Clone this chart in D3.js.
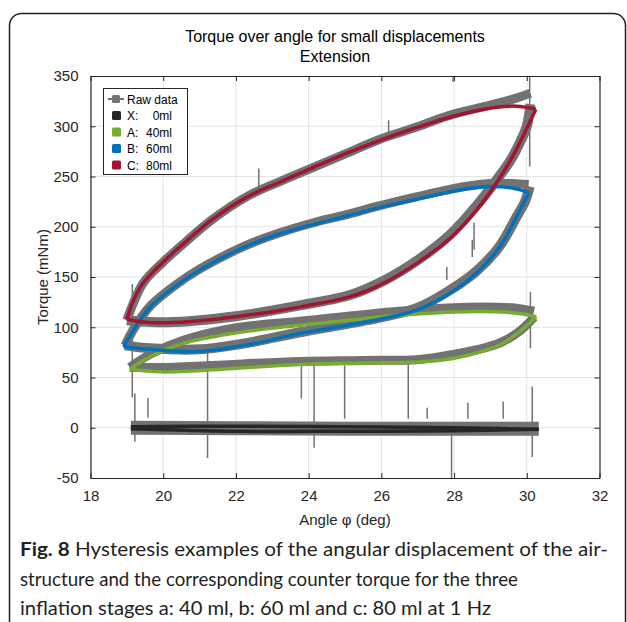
<!DOCTYPE html>
<html>
<head>
<meta charset="utf-8">
<script src="https://cdn.jsdelivr.net/npm/d3@7"></script>
<style>
  body { margin: 0; background: #fff; }
  svg { display: block; }
</style>
</head>
<body>
<div id="chart"></div>
<script>
// Ticks
const xTicks = [18, 20, 22, 24, 26, 28, 30, 32];
const yTicks = [-50, 0, 50, 100, 150, 200, 250, 300, 350];

// Fitted loops [angle, torque]
const fitX_up = [[19.11, 1], [22, 1.5], [25, 1], [28, 0], [30.33, -1.5]];
const fitX_lo = [[19.11, -1], [22, -3.5], [25, -3.5], [28, -3], [30.33, -1.5]];

const fitA_up = [[19.08, 58.2], [19.64, 70.7], [20.55, 84], [21.93, 94], [23.76, 102], [25.5, 108.5], [26.5, 112], [28.35, 115.5], [29.72, 114], [30.26, 110.5]];
const fitA_lo = [[19.08, 58.2], [20.1, 55.5], [21.93, 59], [23.76, 63], [25.5, 64.5], [27.05, 65.5], [27.97, 69], [28.89, 77.3], [29.35, 84], [29.8, 95.6], [30.26, 110.5]];

const fitB_up = [[18.91, 80.6], [19.2, 98], [19.64, 120], [20.3, 140], [21.01, 157], [22.25, 180], [23.21, 193], [24.13, 202.3], [25.04, 210.7], [25.96, 219.3], [26.87, 226.6], [27.6, 232.6], [28.3, 237.5], [28.98, 240], [29.6, 238.5], [30.06, 234]];
const fitB_lo = [[18.91, 80.6], [19.64, 78], [21.01, 76], [22.4, 83], [23.77, 94], [25.6, 105.5], [26.97, 117], [27.89, 134], [28.62, 154], [29.26, 180], [29.72, 210], [30.06, 234]];

const fitC_up = [[19.0, 108], [19.2, 128], [19.45, 144], [20.0, 165], [20.46, 180], [21.38, 208], [22.3, 229.5], [23.21, 244.5], [24.13, 259], [25.04, 273], [25.96, 286], [26.87, 297.5], [27.98, 310], [28.89, 317.5], [29.71, 320], [30.25, 317]];
const fitC_lo = [[19.0, 108], [19.5, 105], [20.1, 104.5], [21.0, 106.5], [22.0, 110.5], [23.0, 115.5], [23.8, 120.5], [25.14, 130.5], [26.05, 143.7], [26.97, 163.6], [27.89, 188.5], [28.62, 216.7], [29.22, 246.5], [29.5, 263], [29.8, 283], [30.08, 304], [30.25, 317]];

// Raw data traces (centre of the noisy band) [angle, torque]
const rawX = [[19.11, 0], [22, -0.5], [25, -1], [28, -1], [30.33, -1]];
const rawA_up = [[19.08, 60], [19.64, 73], [20.55, 87], [21.93, 99], [23.76, 106], [26.5, 116], [28.35, 120], [29.72, 119], [30.2, 116]];
const rawA_lo = [[30.2, 110], [29.8, 96], [29.35, 86], [28.89, 80], [27.97, 73], [27.05, 68], [25.5, 67], [23.76, 66], [21.93, 63], [20.1, 60], [19.08, 60]];
const rawB_up = [[18.95, 82], [19.2, 99], [19.64, 121], [20.3, 141], [21.01, 158], [22.25, 181], [23.21, 194], [24.13, 204], [25.04, 212], [25.96, 221], [26.87, 229], [27.6, 235], [28.3, 240], [28.98, 243], [29.6, 243], [30.05, 242]];
const rawB_lo = [[30.08, 240], [29.95, 225], [29.72, 210], [29.26, 181], [28.62, 156], [27.89, 137], [26.97, 119], [25.6, 107], [23.77, 95], [22.4, 85], [21.01, 78], [19.64, 79], [18.95, 82]];
const rawC_up = [[19.0, 107], [19.45, 144], [20.0, 165], [20.46, 180], [21.38, 208], [22.3, 230], [23.21, 245], [24.13, 259], [25.04, 273], [25.96, 287], [26.87, 298], [27.98, 312], [28.89, 320], [29.71, 328], [30.1, 333]];
const rawC_lo = [[30.1, 322], [30.0, 300], [29.8, 283], [29.55, 266], [29.22, 249], [28.62, 221], [27.89, 192], [26.97, 166], [26.05, 146], [25.14, 132], [23.8, 122], [22.0, 111], [20.1, 105], [19.0, 107]];

// Outlier spikes in the raw data [angle, torque from, torque to]
const spikes = [
  [19.15, 143, 30], [19.22, 34, -14], [19.58, 29.5, 10], [21.22, 78, -30],
  [22.63, 258, 237], [23.8, 62, 29], [24.15, 62, -20], [24.99, 62, 9],
  [26.2, 306, 293], [26.74, 70, 9], [27.26, 20, 9], [27.8, 160, 147],
  [27.93, -5, -50], [27.97, 350, 344], [28.38, 25, 9], [28.5, 187, 170],
  [28.55, 204, 177], [29.35, 26, 9], [30.08, 350, 260], [30.1, 135, 79],
  [30.15, 41, -29]
];

const legendItems = [
  { key: "X:", val: "0ml", color: "#262626" },
  { key: "A:", val: "40ml", color: "#77ac30" },
  { key: "B:", val: "60ml", color: "#0072bd" },
  { key: "C:", val: "80ml", color: "#a2142f" }
];

const captionLines = [
  ["Fig. 8", " Hysteresis examples of the angular displacement of the air-"],
  ["", "structure and the corresponding counter torque for the three"],
  ["", "inflation stages a: 40 ml, b: 60 ml and c: 80 ml at 1 Hz"]
];
const captionLengths = [588, 498, 471];

const W = 627, H = 622;
const plot = { left: 90.5, right: 599.5, top: 76, bottom: 478 };
const rawColor = "#727272";
const axisColor = "#262626";

const svg = d3.select("#chart").append("svg")
  .attr("width", W).attr("height", H)
  .style("font-family", "'Liberation Sans', Arial, sans-serif");

// outer frame
svg.append("rect")
  .attr("x", 9.5).attr("y", 13.5)
  .attr("width", 616).attr("height", 630)
  .attr("rx", 12)
  .attr("fill", "none").attr("stroke", "#231f20").attr("stroke-width", 1.5);

const x = d3.scaleLinear().domain([18, 32]).range([plot.left, plot.right]);
const y = d3.scaleLinear().domain([-50, 350]).range([plot.bottom, plot.top]);

svg.append("clipPath").attr("id", "clip")
  .append("rect")
  .attr("x", plot.left).attr("y", plot.top)
  .attr("width", plot.right - plot.left).attr("height", plot.bottom - plot.top);

// grid
const grid = svg.append("g");
grid.selectAll(".gx").data(xTicks.slice(1, -1)).join("line")
  .attr("x1", d => x(d)).attr("x2", d => x(d))
  .attr("y1", plot.top).attr("y2", plot.bottom)
  .attr("stroke", "#e4e4e4");
grid.selectAll(".gy").data(yTicks.slice(1, -1)).join("line")
  .attr("y1", d => y(d)).attr("y2", d => y(d))
  .attr("x1", plot.left).attr("x2", plot.right)
  .attr("stroke", "#e4e4e4");

const g = svg.append("g").attr("clip-path", "url(#clip)");

const line = d3.line().x(d => x(d[0])).y(d => y(d[1])).curve(d3.curveCatmullRom);

// raw data
const raws = [
  [rawX, 14], [rawA_up, 9], [rawA_lo, 9], [rawB_up, 9], [rawB_lo, 10], [rawC_up, 9], [rawC_lo, 10]
];
g.selectAll(".raw").data(raws).join("path")
  .attr("d", d => line(d[0]))
  .attr("fill", "none").attr("stroke", rawColor)
  .attr("stroke-width", d => d[1])
  .attr("stroke-linejoin", "round");

g.selectAll(".spike").data(spikes).join("line")
  .attr("x1", d => x(d[0])).attr("x2", d => x(d[0]))
  .attr("y1", d => y(d[1])).attr("y2", d => y(d[2]))
  .attr("stroke", rawColor).attr("stroke-width", 1.5);

// fitted loops
const fits = [
  [fitX_up, "#262626"], [fitX_lo, "#262626"],
  [fitA_up, "#77ac30"], [fitA_lo, "#77ac30"],
  [fitB_up, "#0072bd"], [fitB_lo, "#0072bd"],
  [fitC_up, "#a2142f"], [fitC_lo, "#a2142f"]
];
g.selectAll(".fit").data(fits).join("path")
  .attr("d", d => line(d[0]))
  .attr("fill", "none").attr("stroke", d => d[1])
  .attr("stroke-width", 3.5)
  .attr("stroke-linejoin", "round");

// axes (box with inward ticks)
const fmt = d => String(d);
const axG = svg.append("g").attr("color", axisColor);
axG.append("g").attr("transform", `translate(0,${plot.bottom})`)
  .call(d3.axisBottom(x).tickValues(xTicks).tickFormat(fmt).tickSizeInner(-5).tickSizeOuter(0).tickPadding(12));
axG.append("g").attr("transform", `translate(0,${plot.top})`)
  .call(d3.axisTop(x).tickValues(xTicks).tickSizeInner(-5).tickSizeOuter(0).tickFormat(""));
axG.append("g").attr("transform", `translate(${plot.left},0)`)
  .call(d3.axisLeft(y).tickValues(yTicks).tickFormat(fmt).tickSizeInner(-5).tickSizeOuter(0).tickPadding(12));
axG.append("g").attr("transform", `translate(${plot.right},0)`)
  .call(d3.axisRight(y).tickValues(yTicks).tickSizeInner(-5).tickSizeOuter(0).tickFormat(""));
axG.selectAll(".domain").attr("stroke-width", 1.2);
axG.selectAll("text").attr("font-size", 15).attr("fill", axisColor)
  .style("font-family", "'Liberation Sans', Arial, sans-serif");

// titles
svg.append("text").attr("x", 335).attr("y", 42).attr("text-anchor", "middle")
  .attr("font-size", 16).attr("fill", "#000").text("Torque over angle for small displacements");
svg.append("text").attr("x", 335).attr("y", 62).attr("text-anchor", "middle")
  .attr("font-size", 16).attr("fill", "#000").text("Extension");

svg.append("text").attr("x", (plot.left + plot.right) / 2).attr("y", 525)
  .attr("text-anchor", "middle").attr("font-size", 15).attr("fill", axisColor)
  .text("Angle φ (deg)");
svg.append("text")
  .attr("transform", `translate(48,${(plot.top + plot.bottom) / 2}) rotate(-90)`)
  .attr("text-anchor", "middle").attr("font-size", 15).attr("fill", axisColor)
  .text("Torque (mNm)");

// legend
const lg = svg.append("g");
lg.append("rect").attr("x", 103.5).attr("y", 88.5).attr("width", 84).attr("height", 86)
  .attr("fill", "#fff").attr("stroke", axisColor).attr("stroke-width", 1);
lg.append("line").attr("x1", 108).attr("x2", 124).attr("y1", 99).attr("y2", 99)
  .attr("stroke", rawColor).attr("stroke-width", 2);
lg.append("rect").attr("x", 112).attr("y", 95).attr("width", 8).attr("height", 8).attr("rx", 1.5)
  .attr("fill", rawColor);
lg.append("text").attr("x", 127).attr("y", 103.5).attr("font-size", 12).attr("fill", "#000").text("Raw data");
legendItems.forEach((d, i) => {
  const cy = 115.5 + i * 16.5;
  lg.append("rect").attr("x", 112).attr("y", cy - 4.5).attr("width", 9).attr("height", 9).attr("rx", 1.5)
    .attr("fill", d.color);
  lg.append("text").attr("x", 127).attr("y", cy + 4.5).attr("font-size", 12).attr("fill", "#000").text(d.key);
  lg.append("text").attr("x", 172).attr("y", cy + 4.5).attr("text-anchor", "end")
    .attr("font-size", 12).attr("fill", "#000").text(d.val);
});

// caption
const cap = svg.append("g").style("font-family", "Lato, 'Noto Sans', sans-serif")
  .attr("fill", "#231f20").attr("font-size", 19);
captionLines.forEach((ln, i) => {
  const t = cap.append("text").attr("x", 20).attr("y", 556 + i * 29.5)
    .attr("textLength", captionLengths[i]).attr("lengthAdjust", "spacingAndGlyphs");
  if (ln[0]) t.append("tspan").attr("font-weight", "bold").text(ln[0]);
  t.append("tspan").text(ln[1]);
});
</script>
</body>
</html>
